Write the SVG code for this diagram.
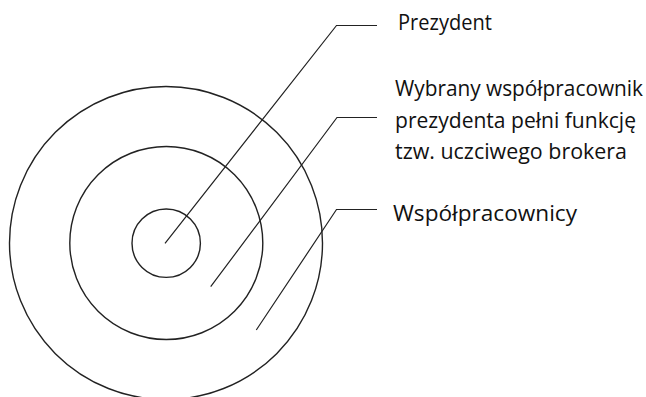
<svg xmlns="http://www.w3.org/2000/svg" width="646" height="397" viewBox="0 0 646 397">
  <style>
    .ring { fill: none; stroke: #222; stroke-width: 1.4; }
    .leader { fill: none; stroke: #222; stroke-width: 1.2; stroke-linejoin: miter; }
    .label { font-family: "Open Sans", "Noto Sans", "Liberation Sans", sans-serif; font-size: 21px; fill: #111; }
  </style>
  <rect width="646" height="397" fill="#fff"/>

  <!-- concentric rings -->
  <g id="ring-outer">
    <circle class="ring" cx="166" cy="243" r="156.5"/>
  </g>
  <g id="ring-middle">
    <circle class="ring" cx="166.3" cy="243" r="96.5"/>
  </g>
  <g id="ring-inner">
    <circle class="ring" cx="166.2" cy="243.2" r="34.2"/>
  </g>

  <!-- leader lines from each ring to its label -->
  <g id="connectors">
    <polyline class="leader" points="165,243.3 336.5,25.5 377,25.5"/>
    <polyline class="leader" points="210.7,286.7 337,117.5 377,117.5"/>
    <polyline class="leader" points="256.3,330 336.5,209.5 377,209.5"/>
  </g>

  <!-- labels -->
  <g id="label-prezydent">
    <text class="label" x="398" y="30" textLength="94" lengthAdjust="spacingAndGlyphs">Prezydent</text>
  </g>
  <g id="label-broker">
    <text class="label" x="395" y="96" textLength="248" lengthAdjust="spacingAndGlyphs">Wybrany współpracownik</text>
    <text class="label" x="395" y="128" textLength="241" lengthAdjust="spacingAndGlyphs">prezydenta pełni funkcję</text>
    <text class="label" x="395" y="159" textLength="232" lengthAdjust="spacingAndGlyphs">tzw. uczciwego brokera</text>
  </g>
  <g id="label-wspolpracownicy">
    <text class="label" x="393" y="220.5" textLength="184" lengthAdjust="spacingAndGlyphs">Współpracownicy</text>
  </g>
</svg>
